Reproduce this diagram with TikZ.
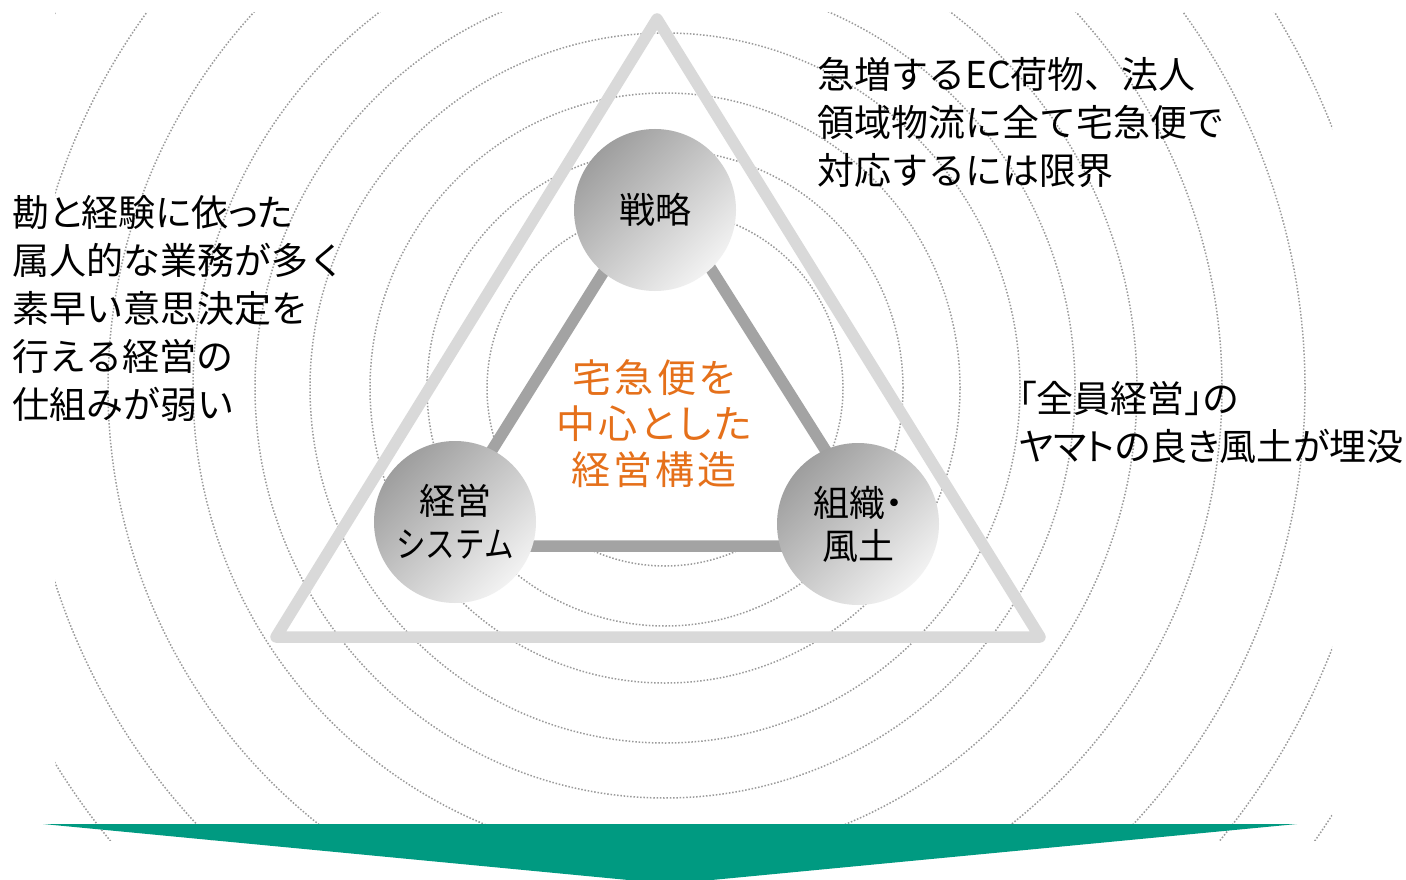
\documentclass[tikz,border=0pt]{standalone}
\usepackage{graphicx}
\usepackage{fontspec}
\setmainfont{Noto Sans CJK JP}
\definecolor{outertri}{HTML}{D9D9D9}
\definecolor{innertri}{HTML}{A3A3A3}
\definecolor{dotgray}{HTML}{9A9A9A}
\definecolor{orangetxt}{HTML}{E5701A}
\definecolor{arrowgreen}{HTML}{009A81}
\pgfdeclareradialshading{bgshade}{\pgfpoint{0bp}{0bp}}{color(0bp)=(white); color(38bp)=(white); color(100bp)=(black!22)}
\tikzset{
  dotline/.style={draw=dotgray, line width=1.5pt, dash pattern=on 1.5pt off 1.8pt},
  outerline/.style={draw=outertri, line width=11.5pt, line join=round},
  innerline/.style={draw=innertri, fill=white, line width=11.5pt, line join=round},
  gnode/.style={circle, minimum size=162pt, inner sep=0pt, top color=black!38, bottom color=black!5, shading angle=45, align=center, text=black, font=\fontsize{36}{43}\selectfont},
  lbl/.style={inner sep=0pt, align=left, text=black, font=\fontsize{37}{48}\selectfont},
  ctrtext/.style={inner sep=0pt, align=center, text=orangetxt, font=\fontsize{39}{46}\selectfont\addfontfeature{RawFeature=+palt,LetterSpace=8}},
}
\begin{document}
\begin{tikzpicture}[x=1pt,y=-1pt]
\useasboundingbox (0,0) rectangle (1406,880);
\clip (0,0) rectangle (1406,880);
% background
\fill[white] (0,0) rectangle (1406,880);
\shade[shading=bgshade] (-230,-510) rectangle (1570,1290);
% concentric dotted circles
\coordinate (ctr) at (665,388);
\begin{scope}
  \clip (55,13) rectangle (1332,840);
  \foreach \r in {178,238,295,355,410,472,557,640,716,792}
    \draw[dotline] (ctr) circle[radius=\r pt];
\end{scope}
% outer triangle
\coordinate (ot1) at (657,19);
\coordinate (ot2) at (276,637);
\coordinate (ot3) at (1040,637);
\draw[outerline] (ot1) -- (ot2) -- (ot3) -- cycle;
% inner triangle
\coordinate (it1) at (658,185);
\coordinate (it2) at (432,546);
\coordinate (it3) at (886,546);
\draw[innerline] (it1) -- (it2) -- (it3) -- cycle;
% nodes
\node[gnode] (senryaku) at (655,210) {戦略};
\node[gnode] (keiei) at (455,522) {経営\\\scalebox{0.82}[1]{システム}};
\node[gnode] (soshiki) at (858,524) {\addfontfeature{RawFeature=+palt}組織・\\風土};
% centre text
\node[ctrtext] (core) at (654,424) {宅急便を\\中心とした\\経営構造};
% side texts
\node[lbl, anchor=west] (leftnote) at (12,308) {{\addfontfeature{RawFeature=+palt}勘と経験に依った}\\属人的な業務が多く\\素早い意思決定を\\行える経営の\\仕組みが弱い};
\node[lbl, anchor=west] (topnote) at (817,122) {急増するEC荷物、法人\\領域物流に全て宅急便で\\対応するには限界};
\node[lbl, anchor=west, font=\fontsize{37}{48}\selectfont\addfontfeature{RawFeature=+palt}] (rightnote) at (1018,422) {「全員経営」の\\ヤマトの良き風土が埋没};
% green arrow
\coordinate (ga1) at (43,824);
\coordinate (ga2) at (1297,824);
\coordinate (ga3) at (670,884);
\fill[arrowgreen] (ga1) -- (ga2) -- (ga3) -- cycle;
\end{tikzpicture}
\end{document}
